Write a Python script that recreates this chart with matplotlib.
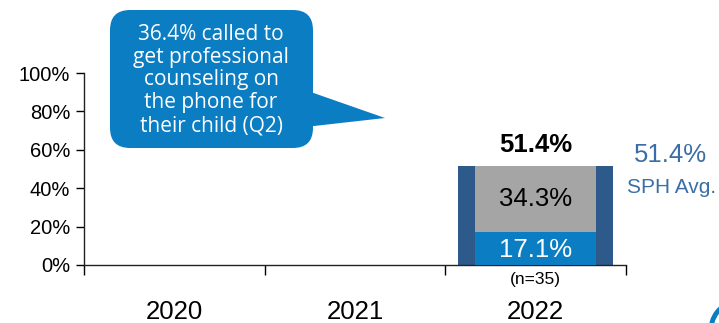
import matplotlib.pyplot as plt
from matplotlib.patches import FancyBboxPatch, Polygon, Arc
import numpy as np

plt.rcParams['font.family'] = ['Liberation Sans', 'DejaVu Sans']

years = ['2020', '2021', '2022']
total_pct = [np.nan, np.nan, 51.4]
phone_pct = [np.nan, np.nan, 17.1]
other_pct = [np.nan, np.nan, 34.3]
sample_n = [None, None, 35]
sph_avg = 51.4
callout_text = '36.4% called to\nget professional\ncounseling on\nthe phone for\ntheir child (Q2)'

dark_blue = '#2D5A8A'
bright_blue = '#0A7DC3'
grey = '#A5A5A5'
avg_blue = '#3B6EA6'

fig = plt.figure(figsize=(7.19, 3.23), dpi=100)
ax = fig.add_axes([84 / 719, 58 / 323, 542 / 719, 192 / 323])

x = np.arange(len(years))
ax.bar(x, total_pct, width=0.86, color=dark_blue, zorder=2)
ax.bar(x, phone_pct, width=0.67, color=bright_blue, zorder=3)
ax.bar(x, other_pct, width=0.67, bottom=phone_pct, color=grey, zorder=3)

for i in range(len(years)):
    if np.isnan(total_pct[i]):
        continue
    ax.text(x[i], total_pct[i] + 11, f'{total_pct[i]:.1f}%', ha='center',
            va='center', fontsize=18.5, fontweight='bold')
    ax.text(x[i], phone_pct[i] + other_pct[i] / 2, f'{other_pct[i]:.1f}%',
            ha='center', va='center', fontsize=18.5, color='black', zorder=4)
    ax.text(x[i], phone_pct[i] / 2 - 0.5, f'{phone_pct[i]:.1f}%',
            ha='center', va='center', fontsize=18.5, color='white', zorder=4)
    ax.text(x[i], -7.5, f'(n={sample_n[i]})', ha='center', va='center',
            fontsize=12.5)

ax.set_xlim(-0.5, 2.5)
ax.set_ylim(0, 100)
ax.set_yticks(np.arange(0, 101, 20))
ax.set_yticklabels([f'{v}%' for v in range(0, 101, 20)], fontsize=14.5)
ax.set_xticks([-0.5, 0.5, 1.5, 2.5])
ax.set_xticklabels([])
ax.tick_params(axis='y', length=6, width=1, direction='out', pad=4)
ax.tick_params(axis='x', length=7, width=1, direction='out')
for i, yr in enumerate(years):
    ax.text(x[i], -28, yr, ha='center', va='baseline', fontsize=18.5)
for s in ['top', 'right']:
    ax.spines[s].set_visible(False)
for s in ['left', 'bottom']:
    ax.spines[s].set_linewidth(1)
    ax.spines[s].set_color('#222222')

# SPH average to the right of the axes
fig.text(670 / 719, 1 - 155 / 323, f'{sph_avg:.1f}%', ha='center',
         va='center', fontsize=18.5, color=avg_blue)
fig.text(672 / 719, 1 - 188 / 323, 'SPH Avg.', ha='center', va='center',
         fontsize=15, color=avg_blue)


# speech bubble, positioned in pixel coordinates
def fpt(xp, yp):
    return (xp / 719, 1 - yp / 323)


bx0, by0 = fpt(110, 148)
bx1, by1 = fpt(313, 10)
bubble = FancyBboxPatch((bx0, by0), bx1 - bx0, by1 - by0,
                        boxstyle='round,pad=0,rounding_size=0.028',
                        mutation_aspect=719 / 323,
                        transform=fig.transFigure, facecolor=bright_blue,
                        edgecolor='none', zorder=5)
fig.patches.append(bubble)
tail = Polygon([fpt(305, 90), fpt(385, 118), fpt(305, 127)], closed=True,
               transform=fig.transFigure, facecolor=bright_blue,
               edgecolor='none', zorder=5)
fig.patches.append(tail)
fig.text(211 / 719, 1 - 80 / 323, callout_text, ha='center', va='center',
         fontsize=15, color='white', family=['Open Sans', 'DejaVu Sans'],
         linespacing=1.12, zorder=6)

# corner logo fragment
logo = Arc(fpt(740, 330), 58 / 719, 58 / 323, theta1=95, theta2=190,
           transform=fig.transFigure, color=bright_blue, linewidth=3.5)
fig.patches.append(logo)

fig.savefig('out.png', dpi=100)
